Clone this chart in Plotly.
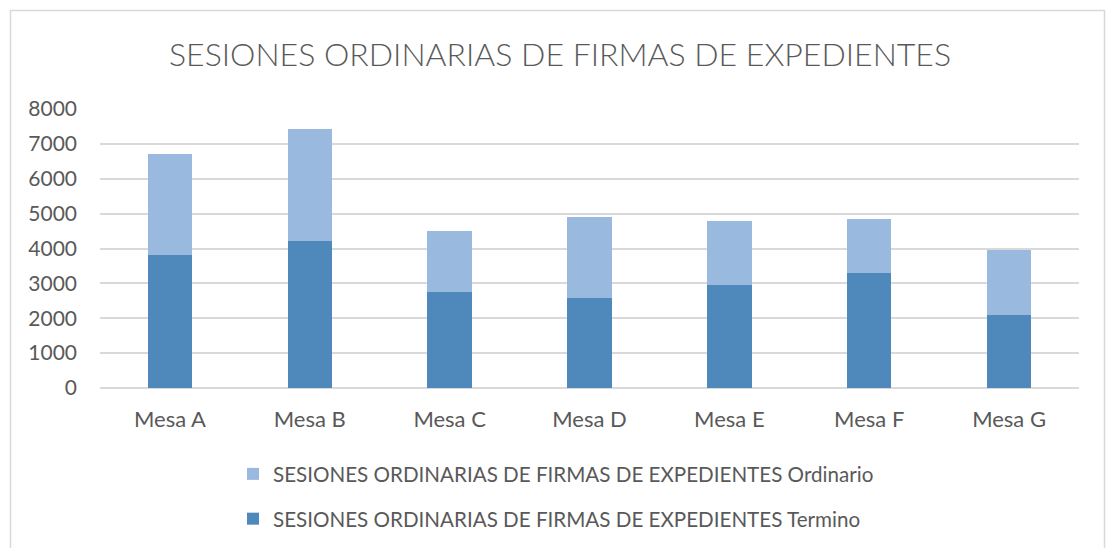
import plotly.graph_objects as go

categories = ["Mesa A", "Mesa B", "Mesa C", "Mesa D", "Mesa E", "Mesa F", "Mesa G"]
termino = [3818, 4219, 2758, 2567, 2940, 3303, 2090]
ordinario = [2902, 3199, 1748, 2349, 1862, 1537, 1872]
y_ticks = [0, 1000, 2000, 3000, 4000, 5000, 6000, 7000, 8000]

name_ord = "SESIONES ORDINARIAS DE FIRMAS DE EXPEDIENTES Ordinario"
name_ter = "SESIONES ORDINARIAS DE FIRMAS DE EXPEDIENTES Termino"
title = "SESIONES ORDINARIAS DE FIRMAS DE EXPEDIENTES"

W, H = 1110, 548
L, R, T, B = 100, 31, 109, 160
pw, ph = W - L - R, H - T - B

font_family = "Lato, 'Open Sans', sans-serif"
text_color = "#595959"

fig = go.Figure()
fig.add_trace(go.Bar(x=categories, y=termino, name=name_ter, legendgroup="t",
                     legendrank=2,
                     marker=dict(color="#4F89BC", line=dict(width=0))))
fig.add_trace(go.Bar(x=categories, y=ordinario, name=name_ord, legendgroup="o",
                     legendrank=1,
                     marker=dict(color="#99B9DF", line=dict(width=0))))

def px_to_paper_x(px):
    return (px - L) / pw

def px_to_paper_y(py):
    return (H - B - py) / ph

fig.add_shape(type="rect", xref="paper", yref="paper",
              x0=px_to_paper_x(10.5), x1=px_to_paper_x(1104.5),
              y0=px_to_paper_y(600), y1=px_to_paper_y(10.5),
              line=dict(color="#d9d9d9", width=1.5), fillcolor="rgba(0,0,0,0)",
              layer="below")

fig.update_layout(
    width=W, height=H,
    margin=dict(l=L, r=R, t=T, b=B, autoexpand=False),
    barmode="stack",
    bargap=0.683,
    paper_bgcolor="white",
    plot_bgcolor="white",
    font=dict(family=font_family, color=text_color, size=20),
    title=dict(text=title, x=560 / W, xref="container", xanchor="center",
               y=1 - 55 / H, yref="container", yanchor="middle",
               font=dict(family=font_family, size=32, color=text_color, weight=300)),
    xaxis=dict(showgrid=False, showline=False, ticks="", ticklabelstandoff=16,
               tickfont=dict(size=22, color=text_color)),
    yaxis=dict(range=[0, 8000], tickvals=y_ticks, showgrid=True,
               gridcolor="#d9d9d9", gridwidth=1.5, zeroline=True,
               zerolinecolor="#d9d9d9", zerolinewidth=1.5, ticks="",
               ticklabelstandoff=22,
               tickfont=dict(size=21, color=text_color)),
    legend=dict(orientation="v", x=px_to_paper_x(233), xanchor="left",
                y=px_to_paper_y(454), yanchor="top",
                traceorder="grouped", tracegroupgap=15,
                font=dict(size=20.6, color=text_color),
                itemwidth=30, bgcolor="rgba(0,0,0,0)"),
    showlegend=True,
)

fig.write_html("out.html", config={"displayModeBar": False},
               post_script="document.body.style.margin='0';document.body.style.padding='0';")
